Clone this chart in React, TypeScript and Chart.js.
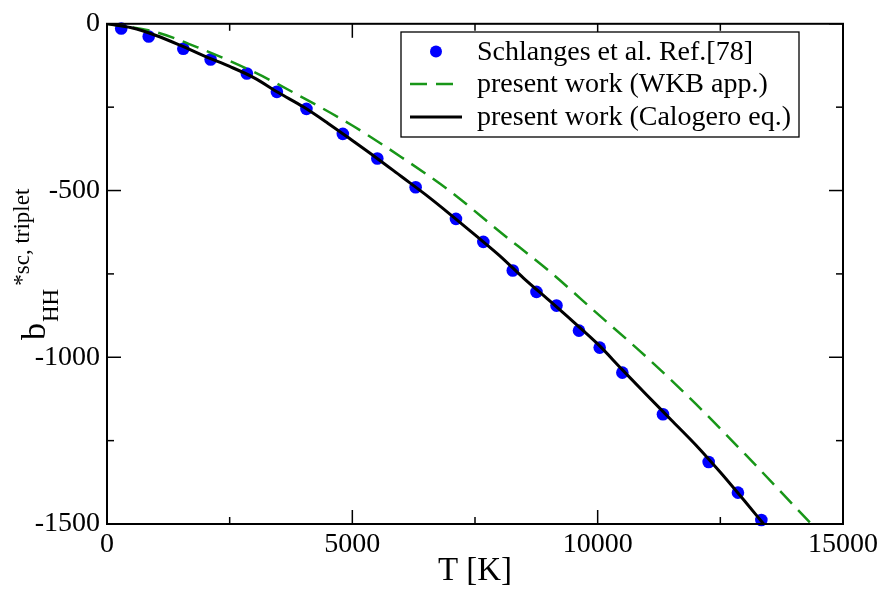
import React, { useEffect, useRef } from "react";
import { Chart, registerables } from "chart.js";
Chart.register(...registerables);

// Schlanges et al. Ref.[78] (points)
const refT = [290, 850, 1555, 2112, 2850, 3462, 4065, 4806, 5509, 6290, 7112, 7670, 8270, 8753, 9161, 9619, 10041, 10503, 11331, 12262, 12859, 13336];
const refB = [-14, -38, -75, -107, -149, -204, -255, -330, -404, -490, -585, -654, -740, -804, -845, -920, -971, -1046, -1171, -1314, -1406, -1488];

// present work (WKB app.)
const wkbT = [0, 1000, 2000, 3000, 4000, 5000, 6000, 7000, 8000, 9000, 10000, 11000, 12000, 13000, 14000, 14400];
const wkbB = [0, -25, -80, -145, -222, -305, -400, -503, -623, -740, -870, -1000, -1140, -1290, -1445, -1507];

// present work (Calogero eq.)
const calT = [0, 500, 1000, 1500, 2000, 2500, 3000, 3500, 4000, 4500, 5000, 5500, 6000, 6500, 7000, 7500, 8000, 8500, 9000, 9500, 10000, 10500, 11000, 11500, 12000, 12500, 13000, 13400];
const calB = [0, -12, -35, -65, -98, -128, -162, -207, -249, -298, -350, -403, -458, -513, -572, -633, -695, -764, -828, -893, -960, -1037, -1113, -1188, -1263, -1345, -1432, -1503];

const seriesLabels = ["Schlanges et al. Ref.[78]", "present work (WKB app.)", "present work (Calogero eq.)"];
const xMajorTicks = [0, 5000, 10000, 15000];
const xMinorTicks = [2500, 7500, 12500];
const yMajorTicks = [0, -500, -1000, -1500];
const yMinorTicks = [-250, -750, -1250];
const xTitle = "T [K]";
const yTitleMain = "b";
const yTitleSub = "HH";
const yTitleSup = "*sc, triplet";

const SERIF = "'Liberation Serif', 'Times New Roman', serif";

const toXY = (xs: number[], ys: number[]) => xs.map((x, i) => ({ x, y: ys[i] }));

export default function App() {
  const ref = useRef<HTMLCanvasElement>(null);

  useEffect(() => {
    const framePlugin = {
      id: "frameTicks",
      afterDraw(chart: any) {
        const ctx = chart.ctx as CanvasRenderingContext2D;
        const { left, right, top, bottom } = chart.chartArea;
        const xs = chart.scales.x;
        const ys = chart.scales.y;
        ctx.save();
        ctx.strokeStyle = "#000";
        ctx.lineWidth = 1.5;
        const line = (a: number, b: number, c: number, d: number) => {
          ctx.beginPath();
          ctx.moveTo(a, b);
          ctx.lineTo(c, d);
          ctx.stroke();
        };
        const drawX = (vals: number[], len: number) => {
          for (const v of vals) {
            const p = xs.getPixelForValue(v);
            line(p, bottom, p, bottom - len);
            line(p, top, p, top + len);
          }
        };
        const drawY = (vals: number[], len: number) => {
          for (const v of vals) {
            const p = ys.getPixelForValue(v);
            line(left, p, left + len, p);
            line(right, p, right - len, p);
          }
        };
        drawX(xMajorTicks, 14);
        drawX(xMinorTicks, 7);
        drawY(yMajorTicks, 14);
        drawY(yMinorTicks, 7);
        ctx.lineWidth = 2;
        ctx.strokeRect(left, top, right - left, bottom - top);

        // Y axis title with subscript / superscript
        ctx.fillStyle = "#000";
        ctx.textAlign = "left";
        ctx.textBaseline = "alphabetic";
        ctx.rotate(-Math.PI / 2);
        let u = -340;
        ctx.font = `34px ${SERIF}`;
        ctx.fillText(yTitleMain, u, 45);
        u += ctx.measureText(yTitleMain).width;
        ctx.font = `23px ${SERIF}`;
        ctx.fillText(yTitleSub, u + 1, 58);
        u += ctx.measureText(yTitleSub).width + 4;
        ctx.font = `23px ${SERIF}`;
        ctx.fillText(yTitleSup, u, 29);
        ctx.restore();

        // Legend
        ctx.save();
        const bx = 401, by = 32, bw = 398, bh = 105;
        ctx.fillStyle = "#fff";
        ctx.fillRect(bx, by, bw, bh);
        ctx.strokeStyle = "#000";
        ctx.lineWidth = 1.3;
        ctx.strokeRect(bx, by, bw, bh);
        const ds = chart.data.datasets;
        const baselines = [59.5, 92, 125];
        ds.forEach((d: any, i: number) => {
          const cy = baselines[i] - 8;
          if (!d.showLine) {
            ctx.fillStyle = d.pointBackgroundColor;
            ctx.beginPath();
            ctx.arc(436, cy, 6, 0, Math.PI * 2);
            ctx.fill();
          } else {
            ctx.strokeStyle = d.borderColor;
            ctx.lineWidth = d.borderWidth;
            ctx.setLineDash(d.borderDash || []);
            ctx.beginPath();
            ctx.moveTo(410, cy);
            ctx.lineTo(462, cy);
            ctx.stroke();
            ctx.setLineDash([]);
          }
          ctx.fillStyle = "#000";
          ctx.font = `28px ${SERIF}`;
          ctx.textAlign = "left";
          ctx.textBaseline = "alphabetic";
          ctx.fillText(d.label, 477, baselines[i]);
        });
        ctx.restore();
      },
    };

    const chart = new Chart(ref.current!, {
      type: "scatter",
      data: {
        datasets: [
          {
            label: seriesLabels[0],
            data: toXY(refT, refB),
            showLine: false,
            pointRadius: 6.3,
            pointHoverRadius: 6.3,
            pointBackgroundColor: "#0000ff",
            pointBorderWidth: 0,
            borderColor: "#0000ff",
            order: 3,
            clip: false,
          } as any,
          {
            label: seriesLabels[1],
            data: toXY(wkbT, wkbB),
            showLine: true,
            borderColor: "rgb(24,150,24)",
            borderWidth: 2.5,
            borderDash: [17, 9],
            pointRadius: 0,
            cubicInterpolationMode: "monotone",
            order: 2,
          } as any,
          {
            label: seriesLabels[2],
            data: toXY(calT, calB),
            showLine: true,
            borderColor: "#000",
            borderWidth: 3,
            pointRadius: 0,
            cubicInterpolationMode: "monotone",
            order: 1,
          } as any,
        ],
      },
      options: {
        responsive: false,
        animation: false,
        devicePixelRatio: 1,
        layout: { padding: { left: 0, right: 39, top: 9, bottom: 0 } },
        plugins: { legend: { display: false }, tooltip: { enabled: false } },
        scales: {
          x: {
            type: "linear",
            min: 0,
            max: 15000,
            afterFit: (s: any) => {
              s.height = 71;
            },
            grid: { display: false, drawTicks: false },
            border: { display: false },
            ticks: {
              stepSize: 5000,
              padding: 4,
              color: "#000",
              font: { family: SERIF, size: 28 },
              maxRotation: 0,
              callback: (v: any) => String(v),
            },
            title: {
              display: true,
              text: xTitle,
              color: "#000",
              font: { family: SERIF, size: 33 },
              padding: { top: 0, bottom: 4 },
            },
          },
          y: {
            type: "linear",
            min: -1500,
            max: 0,
            afterFit: (s: any) => {
              s.width = 107;
            },
            grid: { display: false, drawTicks: false },
            border: { display: false },
            ticks: {
              stepSize: 500,
              padding: 7,
              color: "#000",
              font: { family: SERIF, size: 28 },
              callback: (v: any) => String(v),
            },
          },
        },
      },
      plugins: [framePlugin],
    });
    return () => chart.destroy();
  }, []);

  return (
    <div style={{ position: "fixed", left: 0, top: 0, width: 882, height: 595, background: "#fff" }}>
      <canvas ref={ref} width={882} height={595} style={{ width: 882, height: 595, display: "block" }} />
    </div>
  );
}
